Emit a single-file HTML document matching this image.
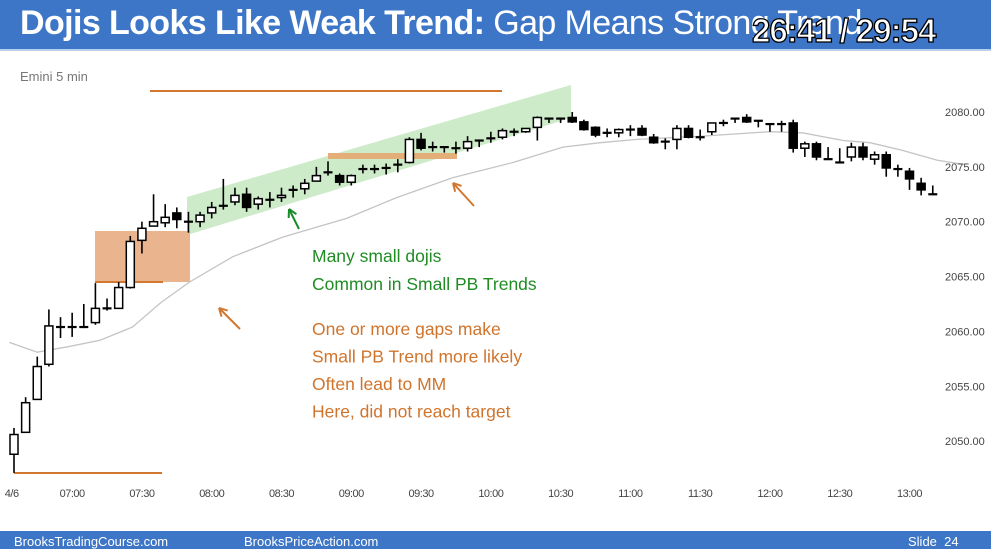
<!DOCTYPE html>
<html><head><meta charset="utf-8"><style>
html,body{margin:0;padding:0;background:#fff;}
body{width:991px;height:549px;overflow:hidden;position:relative;font-family:"Liberation Sans",sans-serif;}
#title{position:absolute;left:0;top:0;width:991px;height:49px;background:#3d76c6;border-bottom:2px solid #b8d0ec;}
#title span.t{position:absolute;left:20px;top:4px;color:#fff;font-size:34px;white-space:nowrap;letter-spacing:-0.6px}
#time{position:absolute;left:752px;top:12px;color:#fff;font-size:33px;font-weight:bold;-webkit-text-stroke:1.3px #000;letter-spacing:-1px}
#footer{position:absolute;left:0;top:531px;width:991px;height:18px;background:#3d76c6;color:#fff;font-size:13px;}
#footer span{position:absolute;top:3px}
svg{position:absolute;left:0;top:0}
</style></head><body>
<div id="title"><span class="t"><b>Dojis Looks Like Weak Trend:</b> Gap Means Strong Trend</span></div>
<div id="time">26:41 / 29:54</div>
<svg id="chart" width="991" height="549"></svg>
<div id="footer"><span style="left:14px">BrooksTradingCourse.com</span><span style="left:244px">BrooksPriceAction.com</span><span style="left:908px">Slide&nbsp; 24</span></div>
<script>
const opens=[2048.8,2050.8,2053.8,2057,2060.4,2060.4,2060.4,2060.8,2062.1,2062.1,2064,2068.3,2069.6,2069.9,2070.8,2070,2070,2070.8,2071.4,2071.8,2072.5,2071.6,2072,2072.2,2072.9,2073,2073.7,2074.5,2074.2,2073.6,2074.8,2074.8,2074.9,2075.2,2075.4,2077.5,2076.8,2076.8,2076.7,2076.7,2077.4,2077.6,2077.7,2078.2,2078.2,2078.6,2079.4,2079.4,2079.5,2079.1,2078.6,2078.1,2078.1,2078.4,2078.5,2077.7,2077.3,2077.5,2078.5,2077.7,2078.2,2079,2079.4,2079.5,2079.2,2078.9,2078.9,2079,2076.7,2077.1,2075.7,2075.4,2075.9,2076.8,2075.7,2076.1,2074.8,2074.6,2073.5,2072.5];
const highs=[2051.2,2054,2057.7,2062,2061.3,2061.7,2062.5,2064.4,2063,2064.5,2068.7,2070,2072.5,2071.6,2071.3,2070.9,2070.9,2071.8,2073.9,2073.1,2073.1,2072.3,2072.7,2073.1,2073.3,2073.9,2075,2075.5,2074.4,2074.3,2075.2,2075.2,2075.3,2075.7,2077.7,2078.1,2077.3,2076.8,2077.3,2077.8,2077.4,2078.2,2078.5,2078.5,2078.5,2079.6,2079.5,2079.5,2080,2079.3,2078.7,2078.5,2078.5,2078.8,2078.8,2078,2077.6,2078.8,2078.8,2078.4,2079,2079.3,2079.4,2079.8,2079.2,2078.9,2079.2,2079.3,2077.3,2077.3,2076.8,2076.7,2077.2,2077.2,2076.4,2076.4,2075.2,2074.9,2074,2073.3];
const lows=[2047.1,2050.8,2053.8,2056.8,2059.4,2059.5,2060.3,2060.6,2061.9,2062.1,2063.9,2067.1,2069.6,2069.5,2069.4,2069,2069.5,2070.3,2071.1,2071.5,2070.9,2071.1,2071.3,2071.8,2072.2,2072.5,2073.7,2074.2,2073.3,2073.3,2074.4,2074.4,2074.3,2074.5,2075.3,2076.5,2076.4,2076.3,2076.2,2076.4,2076.8,2077.2,2077.5,2077.8,2078.1,2077.4,2079,2079,2079,2078.3,2077.7,2077.7,2077.7,2077.8,2077.8,2077.1,2076.6,2076.6,2077.6,2077.4,2077.9,2078.7,2079,2079,2078.6,2078.2,2078.2,2076.3,2075.9,2075.6,2075.7,2075.4,2075.5,2075.6,2075.2,2074.1,2074.1,2072.9,2072.4,2072.5];
const closes=[2050.6,2053.5,2056.8,2060.5,2060.4,2060.4,2060.4,2062.1,2062.1,2064,2068.2,2069.4,2070,2070.4,2070.2,2070,2070.6,2071.3,2071.5,2072.4,2071.3,2072.1,2072,2072.4,2072.9,2073.5,2074.2,2074.5,2073.6,2074.2,2074.8,2074.8,2074.9,2075.2,2077.5,2076.7,2076.8,2076.8,2076.7,2077.3,2077.4,2077.6,2078.3,2078.2,2078.5,2079.5,2079.4,2079.4,2079.1,2078.4,2077.9,2078.1,2078.4,2078.4,2077.9,2077.2,2077.3,2078.5,2077.7,2077.7,2079,2079,2079.4,2079.1,2079.2,2078.9,2078.9,2076.7,2077.1,2075.9,2075.7,2075.4,2076.8,2075.9,2076.1,2074.9,2074.8,2073.9,2072.9,2072.5];
const maIdx=[-0.4,2,4.6,7.4,10.2,12.6,15.1,18.8,23.1,28.6,32.9,37.7,42.9,47.2,50.4,53.6,59.2,65,67.8,71.3,73.6,76.4,79.4,81.8];
const maVals=[2059,2058.1,2058.6,2059.2,2060.4,2062.6,2064.5,2066.8,2068.6,2070.3,2072.2,2074,2075.4,2076.8,2077.2,2077.5,2077.8,2078.2,2078.1,2077.4,2077.2,2076.5,2075.6,2075.2];
const yTicks=[2080,2075,2070,2065,2060,2055,2050];
const timeLabels=["4/6","07:00","07:30","08:00","08:30","09:00","09:30","10:00","10:30","11:00","11:30","12:00","12:30","13:00"];
const timeBars=[-0.2,5,11,17,23,29,35,41,47,53,59,65,71,77];

const svg=document.getElementById('chart');
const NS='http://www.w3.org/2000/svg';
const xs=i=>14+i*11.63;
const ys=p=>112+(2080-p)*10.97;
function mk(tag,attrs,parent){const e=document.createElementNS(NS,tag);for(const k in attrs)e.setAttribute(k,attrs[k]);(parent||svg).appendChild(e);return e;}

let t=mk('text',{x:20,y:81,'font-size':13,fill:'#777','font-family':'Liberation Sans, sans-serif'});
t.textContent='Emini 5 min';



let g=mk('polygon',{points:'187,197 571,85 571,118 187,235',fill:'#cdebc9'});


let b=mk('rect',{x:95,y:231,width:95,height:51,fill:'#eab48e'});


let l1=mk('line',{x1:95,y1:282,x2:163,y2:282,stroke:'#d2772f','stroke-width':2});


let l2=mk('line',{x1:150,y1:91,x2:502,y2:91,stroke:'#d2772f','stroke-width':2});


let l3=mk('line',{x1:14,y1:473,x2:162,y2:473,stroke:'#d2772f','stroke-width':2});


let l4=mk('rect',{x:328,y:153,width:129,height:6,fill:'#e4ae78'});



let d='';
maIdx.forEach((v,k)=>{d+=(k?'L':'M')+xs(v).toFixed(1)+','+ys(maVals[k]).toFixed(1);});
let ma=mk('path',{d:d,fill:'none',stroke:'#c4c4c4','stroke-width':1.3});



opens.forEach((o,i)=>{
  const c=closes[i],x=xs(i);
  const grp=mk('g',{});
  
  
  mk('line',{x1:x,y1:ys(highs[i]),x2:x,y2:ys(lows[i]),stroke:'#000','stroke-width':1.6},grp);
  const top=ys(Math.max(o,c)),bot=ys(Math.min(o,c));
  if(bot-top<2){mk('line',{x1:x-4.5,y1:(top+bot)/2,x2:x+4.5,y2:(top+bot)/2,stroke:'#000','stroke-width':2.2},grp);}
  else mk('rect',{x:x-4,y:top,width:8,height:bot-top,fill:c>=o?'#fff':'#000',stroke:'#000','stroke-width':1.5},grp);
});

function arrow(x1,y1,x2,y2,col,name){
  const a=mk('g',{});
  
  
  mk('line',{x1:x1,y1:y1,x2:x2,y2:y2,stroke:col,'stroke-width':2},a);
  const ang=Math.atan2(y2-y1,x2-x1),L=9;
  [0.5,-0.5].forEach(s=>mk('line',{x1:x2,y1:y2,x2:x2-L*Math.cos(ang+s),y2:y2-L*Math.sin(ang+s),stroke:col,'stroke-width':2},a));
}
arrow(299,229,289,209,'#1a8a2a','green-arrow');
arrow(474,206,453,183,'#d2772f','orange-arrow-upper');
arrow(240,329,219,308,'#d2772f','orange-arrow-lower');

const green=['Many small dojis','Common in Small PB Trends'];
green.forEach((s,k)=>{const e=mk('text',{x:312,y:262+k*28,'font-size':17.5,fill:'#1f8c24','font-family':'Liberation Sans, sans-serif'});e.textContent=s;

});
const orange=['One or more gaps make','Small PB Trend more likely','Often lead to MM','Here, did not reach target'];
orange.forEach((s,k)=>{const e=mk('text',{x:312,y:335+k*27.5,'font-size':17.5,fill:'#d0742c','font-family':'Liberation Sans, sans-serif'});e.textContent=s;

});

yTicks.forEach(v=>{const e=mk('text',{x:945,y:ys(v)+4,'font-size':11,fill:'#444','font-family':'Liberation Sans, sans-serif'});e.textContent=v.toFixed(2);

});
timeLabels.forEach((s,k)=>{const e=mk('text',{x:xs(timeBars[k]),y:497,'font-size':11,fill:'#444','text-anchor':'middle','font-family':'Liberation Sans, sans-serif','letter-spacing':'-0.5'});e.textContent=s;

});
</script>
</body></html>
